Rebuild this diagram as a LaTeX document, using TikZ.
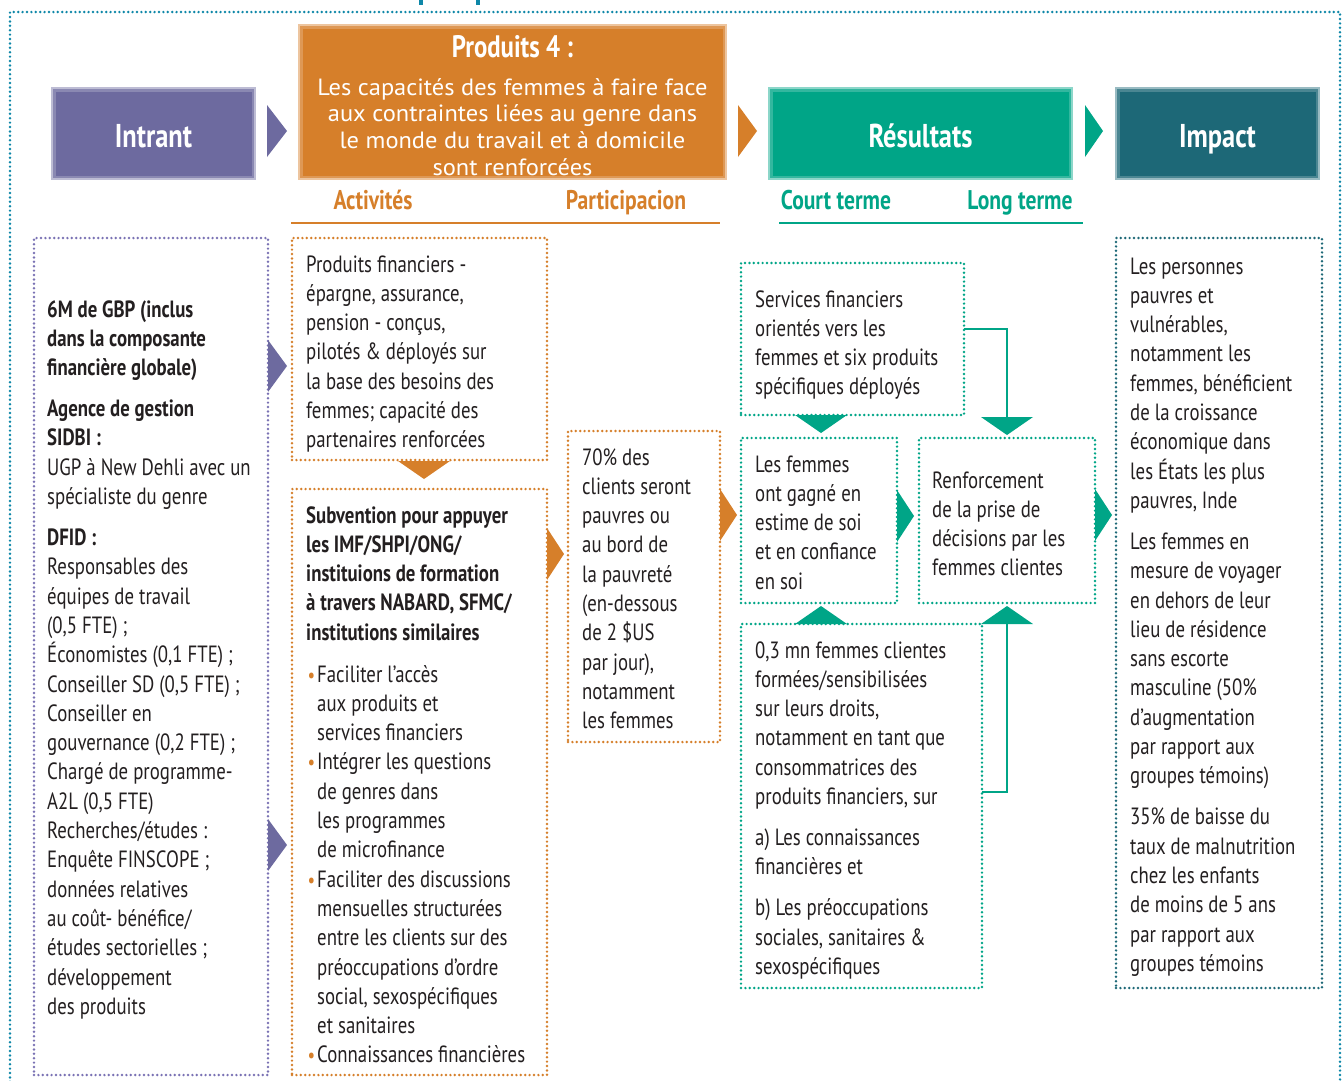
\documentclass[tikz,border=0pt]{standalone}
\usepackage{fontspec}
\setmainfont{PT Sans}[FakeStretch=0.8]
\newfontfamily\hdfont{PT Sans}[FakeStretch=1.04]
\usetikzlibrary{calc}
\definecolor{pur}{HTML}{6D6A9F}
\definecolor{purd}{HTML}{7A72B4}
\definecolor{ora}{HTML}{D67F2A}
\definecolor{tea}{HTML}{00A587}
\definecolor{dte}{HTML}{1D6877}
\definecolor{blu}{HTML}{0E87A8}
\definecolor{txt}{HTML}{231F20}
\tikzset{
  dotline/.style={draw=#1, line width=2.7pt, dash pattern=on 0pt off 4.4pt, line cap=round},
  dotbox/.style={dotline=#1, inner sep=0pt, outer sep=0pt, anchor=north west},
  hdrbox/.style={inner sep=0pt, outer sep=0pt},
  hlab/.style={anchor=base, inner sep=0pt, text=white, font=\bfseries\fontsize{33}{36}\selectfont},
  sublab/.style={anchor=base, inner sep=0pt, text=#1, font=\bfseries\fontsize{27}{30}\selectfont},
  body/.style={anchor=base west, inner sep=0pt, text=txt, font=\fontsize{23.5}{29.3}\selectfont},
  conn/.style={draw=tea, line width=1.5pt},
}
\newcommand\lines[1]{\parbox[t]{400pt}{\raggedright #1}}
\newcommand\bul{\makebox[0pt][r]{\textcolor{ora}{\fontsize{21}{21}\selectfont\textbullet}\hspace{2pt}}}
\newcommand\softbox[2]{%
  \fill[#2!45] (#1.south west) rectangle (#1.north east);
  \fill[#2!80] ($(#1.south west)+(2,-2)$) rectangle ($(#1.north east)+(-2,2)$);
  \fill[#2] ($(#1.south west)+(4.5,-4.5)$) rectangle ($(#1.north east)+(-4.5,4.5)$);}
\begin{document}
\begin{tikzpicture}[x=1pt,y=-1pt]
\useasboundingbox (0,0) rectangle (1343,1080);
\fill[white] (0,0) rectangle (1343,1080);
% clipped title remnants
\fill[blu] (419,0) rectangle (422.5,5);
\fill[blu] (476,0) rectangle (479.5,5);
% outer frame
\draw[dotline=blu] (10,1095) -- (10,12) -- (1340,12) -- (1340,1095);

% header boxes
\node[hdrbox, minimum width=205pt, minimum height=93pt] (intr) at (153.5,133.5) {};
\softbox{intr}{pur}
\node[hdrbox, minimum width=429pt, minimum height=156pt] (prod) at (512.5,102) {};
\softbox{prod}{ora}
\node[hdrbox, minimum width=305pt, minimum height=93pt] (resu) at (920.5,133.5) {};
\softbox{resu}{tea}
\node[hdrbox, minimum width=205pt, minimum height=93pt] (impa) at (1217.5,133.5) {};
\softbox{impa}{dte}

\node[hlab] (lintr) at (153.5,147) {Intrant};
\node[hlab] (lresu) at (920.5,147) {Résultats};
\node[hlab] (limpa) at (1217.5,147) {Impact};
\node[anchor=base, inner sep=0pt, text=white, font=\bfseries\fontsize{31}{34}\selectfont] (ptitle) at (512.5,57) {Produits 4 :};
\node[anchor=base, inner sep=0pt, text=white, font=\hdfont\fontsize{23.5}{26.7}\selectfont] (psub) at (512.5,95)
  {\parbox[t]{425pt}{\centering Les capacités des femmes à faire face\\aux contraintes liées au genre dans\\le monde du travail et à domicile\\sont renforcées}};

% header arrows
\fill[pur] ($(intr.east)+(11,-28.5)$) -- ($(intr.east)+(31,-2.5)$) -- ($(intr.east)+(11,23.5)$) -- cycle;
\fill[ora] (738,105) -- (757,131) -- (738,157) -- cycle;
\fill[tea] ($(resu.east)+(12,-28.5)$) -- ($(resu.east)+(30,-2.5)$) -- ($(resu.east)+(12,23.5)$) -- cycle;

% sub labels
\node[sublab=ora] (lact) at (373,209) {Activités};
\node[sublab=ora] (lpar) at (626,209) {Participacion};
\node[sublab=tea] (lcou) at (836,209) {Court terme};
\node[sublab=tea] (llon) at (1020,209) {Long terme};
\draw[ora, line width=2.5pt] (291,223) -- (720,223);
\draw[tea, line width=2.5pt] (779,223) -- (1083,223);

% column boxes
\node[dotbox=purd, minimum width=234pt, minimum height=837pt] (inb) at (34,238) {};
\node[dotbox=ora, minimum width=255pt, minimum height=222pt] (act1) at (292,238) {};
\node[dotbox=ora, minimum width=255pt, minimum height=586pt] (act2) at (292,489) {};
\node[dotbox=ora, minimum width=152pt, minimum height=311pt] (part) at (568,431) {};
\node[dotbox=tea, minimum width=223pt, minimum height=152pt] (svc) at (741,263) {};
\node[dotbox=tea, minimum width=156pt, minimum height=165pt] (fem) at (741,438) {};
\node[dotbox=tea, minimum width=176pt, minimum height=165pt] (ren) at (919,438) {};
\node[dotbox=tea, minimum width=241pt, minimum height=364pt] (bot) at (741,624) {};
\node[dotbox=dte, minimum width=206pt, minimum height=750pt] (imp) at (1116,238) {};

% arrowheads between columns
\fill[pur] (268,340) -- (287,366) -- (268,392) -- cycle;
\fill[pur] (268,819) -- (287,845) -- (268,871) -- cycle;
\fill[ora] (398,461) -- (450,461) -- (424,479) -- cycle;
\fill[ora] (547,528) -- (564,554) -- (547,580) -- cycle;
\fill[ora] (720,489) -- (737,515) -- (720,541) -- cycle;
\fill[tea] (795,415) -- (847,415) -- (821,433) -- cycle;
\fill[tea] (981,417) -- (1033,417) -- (1007,435) -- cycle;
\fill[tea] (897,490) -- (914,516) -- (897,542) -- cycle;
\fill[tea] (1095,489) -- (1112,515) -- (1095,541) -- cycle;
\fill[tea] (795,624) -- (847,624) -- (821,606) -- cycle;
\fill[tea] (981,624) -- (1033,624) -- (1007,606) -- cycle;
% connectors
\draw[conn] (svc.east |- 0,329) -- (1007,329) -- (1007,418);
\draw[conn] (bot.east |- 0,792) -- (1007,792) -- (1007,623);

% texts
\node[body] (tin) at (47,317) {\lines{\bfseries 6M de GBP (inclus\\dans la composante\\financière globale)\\[11.7pt]Agence de gestion\\SIDBI :\\\mdseries UGP à New Dehli avec un\\spécialiste du genre\\[11.7pt]\bfseries DFID :\\\mdseries Responsables des\\équipes de travail\\(0,5 FTE) ;\\Économistes (0,1 FTE) ;\\Conseiller SD (0,5 FTE) ;\\Conseiller en\\gouvernance (0,2 FTE) ;\\Chargé de programme-\\A2L (0,5 FTE)\\Recherches/études :\\Enquête FINSCOPE ;\\données relatives\\au coût- bénéfice/\\études sectorielles ;\\développement\\des produits}};

\node[body] (tact1) at (306,272) {\lines{Produits financiers -\\épargne, assurance,\\pension - conçus,\\pilotés \& déployés sur\\la base des besoins des\\femmes; capacité des\\partenaires renforcées}};

\node[body] (tact2) at (306,523) {\lines{\bfseries Subvention pour appuyer\\les IMF/SHPI/ONG/\\instituions de formation\\à travers NABARD, SFMC/\\institutions similaires}};

\node[body] (tact3) at (317,682) {\lines{\bul Faciliter l’accès\\aux produits et\\services financiers\\\bul Intégrer les questions\\de genres dans\\les programmes\\de microfinance\\\bul Faciliter des discussions\\mensuelles structurées\\entre les clients sur des\\préoccupations d’ordre\\social, sexospécifiques\\et sanitaires\\\bul Connaissances financières}};

\node[body] (tpart) at (582,465) {\lines{70\% des\\clients seront\\pauvres ou\\au bord de\\la pauvreté\\(en-dessous\\de 2 \$US\\par jour),\\notamment\\les femmes}};

\node[body] (tsvc) at (755,307) {\lines{Services financiers\\orientés vers les\\femmes et six produits\\spécifiques déployés}};

\node[body] (tfem) at (755,472) {\lines{Les femmes\\ont gagné en\\estime de soi\\et en confiance\\en soi}};

\node[body] (tren) at (932,488) {\lines{Renforcement\\de la prise de\\décisions par les\\femmes clientes}};

\node[body] (tbot) at (755,658) {\lines{0,3 mn femmes clientes\\formées/sensibilisées\\sur leurs droits,\\notamment en tant que\\consommatrices des\\produits financiers, sur\\[11.7pt]a) Les connaissances\\financières et\\[11.7pt]b) Les préoccupations\\sociales, sanitaires \&\\sexospécifiques}};

\node[body] (timp) at (1130,274) {\lines{Les personnes\\pauvres et\\vulnérables,\\notamment les\\femmes, bénéficient\\de la croissance\\économique dans\\les États les plus\\pauvres, Inde\\[11.7pt]Les femmes en\\mesure de voyager\\en dehors de leur\\lieu de résidence\\sans escorte\\masculine (50\%\\d’augmentation\\par rapport aux\\groupes témoins)\\[11.7pt]35\% de baisse du\\taux de malnutrition\\chez les enfants\\de moins de 5 ans\\par rapport aux\\groupes témoins}};
\end{tikzpicture}
\end{document}
